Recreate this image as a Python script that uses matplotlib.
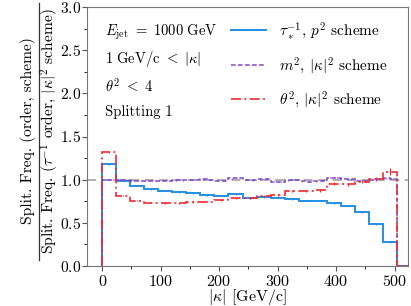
import matplotlib
matplotlib.use("Agg")
import matplotlib.pyplot as plt
from matplotlib.ticker import MultipleLocator
from matplotlib.lines import Line2D
import numpy as np

plt.rcParams['font.family'] = 'serif'
plt.rcParams['font.serif'] = ['cmr10']
plt.rcParams['mathtext.fontset'] = 'cm'
plt.rcParams['axes.unicode_minus'] = False
plt.rcParams['axes.formatter.use_mathtext'] = True

# |kappa| bins (GeV/c), last bin is the empty overflow
edges = np.arange(0, 529, 24)
tau_ratio = [1.18, 0.99, 0.93, 0.89, 0.87, 0.855, 0.84, 0.82, 0.815, 0.83, 0.785,
             0.795, 0.79, 0.776, 0.757, 0.755, 0.726, 0.70, 0.62, 0.487, 0.275, 0.0]
tau_err = [0.012, 0.006, 0.006, 0.006, 0.006, 0.006, 0.006, 0.006, 0.006, 0.006, 0.006,
           0.006, 0.006, 0.006, 0.007, 0.007, 0.008, 0.008, 0.009, 0.010, 0.012, 0.0]
theta_ratio = [1.32, 0.815, 0.757, 0.735, 0.728, 0.73, 0.74, 0.745, 0.765, 0.785, 0.79,
               0.81, 0.825, 0.87, 0.865, 0.875, 0.955, 0.945, 0.975, 1.005, 1.09, 0.0]
theta_err = [0.015, 0.008, 0.008, 0.008, 0.008, 0.008, 0.008, 0.008, 0.008, 0.008, 0.009,
             0.009, 0.010, 0.011, 0.012, 0.013, 0.015, 0.016, 0.018, 0.022, 0.040, 0.0]

# m^2 curve is binned twice as finely
edges_fine = np.arange(0, 529, 12)
m2_ratio = [1.00, 1.00, 1.00, 1.00, 0.99, 0.99, 0.985, 0.985, 0.99, 0.99, 0.995, 0.995,
            1.00, 1.00, 1.005, 1.00, 0.985, 0.985, 1.015, 1.02, 1.00, 0.995, 1.005, 1.01,
            0.975, 0.975, 0.995, 1.00, 0.98, 0.975, 0.98, 0.99, 1.02, 1.025, 1.01, 1.005,
            0.99, 0.985, 1.00, 1.01, 1.015, 1.01, 0.0, 0.0]
m2_err = [0.006] * 42 + [0.0, 0.0]

labels = [r'$\tau_*^{-1}$, $p^2$ scheme', r'$m^2$, $|\kappa|^2$ scheme',
          r'$\theta^2$, $|\kappa|^2$ scheme']
info = [r'$E_{\rm jet}\ =\ 1000\ \mathrm{GeV}$', r'$1\ \mathrm{GeV/c}\ <\ |\kappa|$',
        r'$\theta^2\ <\ 4$', 'Splitting 1']
ylab_num = 'Split. Freq. (order, scheme)'
ylab_den = r'Split. Freq. ($\tau^{-1}$ order, $|\kappa|^2$ scheme)'

c_blue, c_purple, c_red = '#2590e0', '#7f45c8', '#ee2c35'

fig = plt.figure(figsize=(4.11, 3.06), dpi=100)
ax = fig.add_axes([87 / 411, 1 - 266 / 306, 321 / 411, 259 / 306])

ax.axhline(1.0, color='#a8a8a8', ls=(0, (5, 3)), lw=1.3, zorder=1)

def draw(e, vals, err, color, ls, lw, band=False):
    vals = np.asarray(vals)
    err = np.asarray(err)
    ax.stairs(vals, e, baseline=0, color=color, ls=ls, lw=lw, zorder=3)
    mid = 0.5 * (e[:-1] + e[1:])
    keep = vals > 0
    ax.errorbar(mid[keep], vals[keep], yerr=err[keep], fmt='none',
                ecolor=color, elinewidth=0.9, zorder=3)
    if band:
        ax.fill_between(e[:-1][keep].tolist() + [e[keep.sum()]],
                        list(vals[keep] - err[keep]) + [vals[keep][-1] - err[keep][-1]],
                        list(vals[keep] + err[keep]) + [vals[keep][-1] + err[keep][-1]],
                        step='post', color=color, alpha=0.3, lw=0, zorder=2)

draw(edges, tau_ratio, tau_err, c_blue, '-', 1.4, band=True)
draw(edges_fine, m2_ratio, m2_err, c_purple, (0, (3, 1.6)), 1.1)
draw(edges, theta_ratio, theta_err, c_red, (0, (6, 2, 1.2, 2)), 1.2)

ax.set_xlim(-26, 523)
ax.set_ylim(0, 3.0)
ax.xaxis.set_major_locator(MultipleLocator(100))
ax.xaxis.set_minor_locator(MultipleLocator(50))
ax.yaxis.set_major_locator(MultipleLocator(0.5))
ax.yaxis.set_minor_locator(MultipleLocator(0.25))
ax.tick_params(labelsize=11.5, direction='out', color='#555555', pad=2)
ax.tick_params(axis='y', labelsize=11.2, pad=0.5)
for s in ax.spines.values():
    s.set_color('#777777')

ax.set_xlabel(r'$|\kappa|$ [GeV/c]', fontsize=11.5)
ax.xaxis.set_label_coords(0.5, -0.083)

# y label drawn as a stacked fraction
fig.text(28.5 / 411, 1 - 131 / 306, ylab_num, rotation=90, ha='center', va='center',
         fontsize=11.2)
fig.text(49.5 / 411, 1 - 131 / 306, ylab_den, rotation=90, ha='center', va='center',
         fontsize=11.2)
fig.add_artist(Line2D([39 / 411, 39 / 411], [1 - 260 / 306, 1 - 3 / 306],
                      transform=fig.transFigure, color='#333333', lw=0.9))

for i, t in enumerate(info):
    ax.text(0.055, 0.903 - i * 0.103, t, transform=ax.transAxes, fontsize=10.5,
            ha='left', va='center')

handles = [Line2D([], [], color=c_blue, ls='-', lw=1.4),
           Line2D([], [], color=c_purple, ls=(0, (3, 1.6)), lw=1.1),
           Line2D([], [], color=c_red, ls=(0, (6, 2, 1.2, 2)), lw=1.2)]
ax.legend(handles, labels, loc='upper right', frameon=False, fontsize=11,
          handlelength=2.3, handletextpad=0.9, labelspacing=0.9,
          borderaxespad=0.6, bbox_to_anchor=(0.985, 1.01))

fig.savefig('out.png', dpi=100)
